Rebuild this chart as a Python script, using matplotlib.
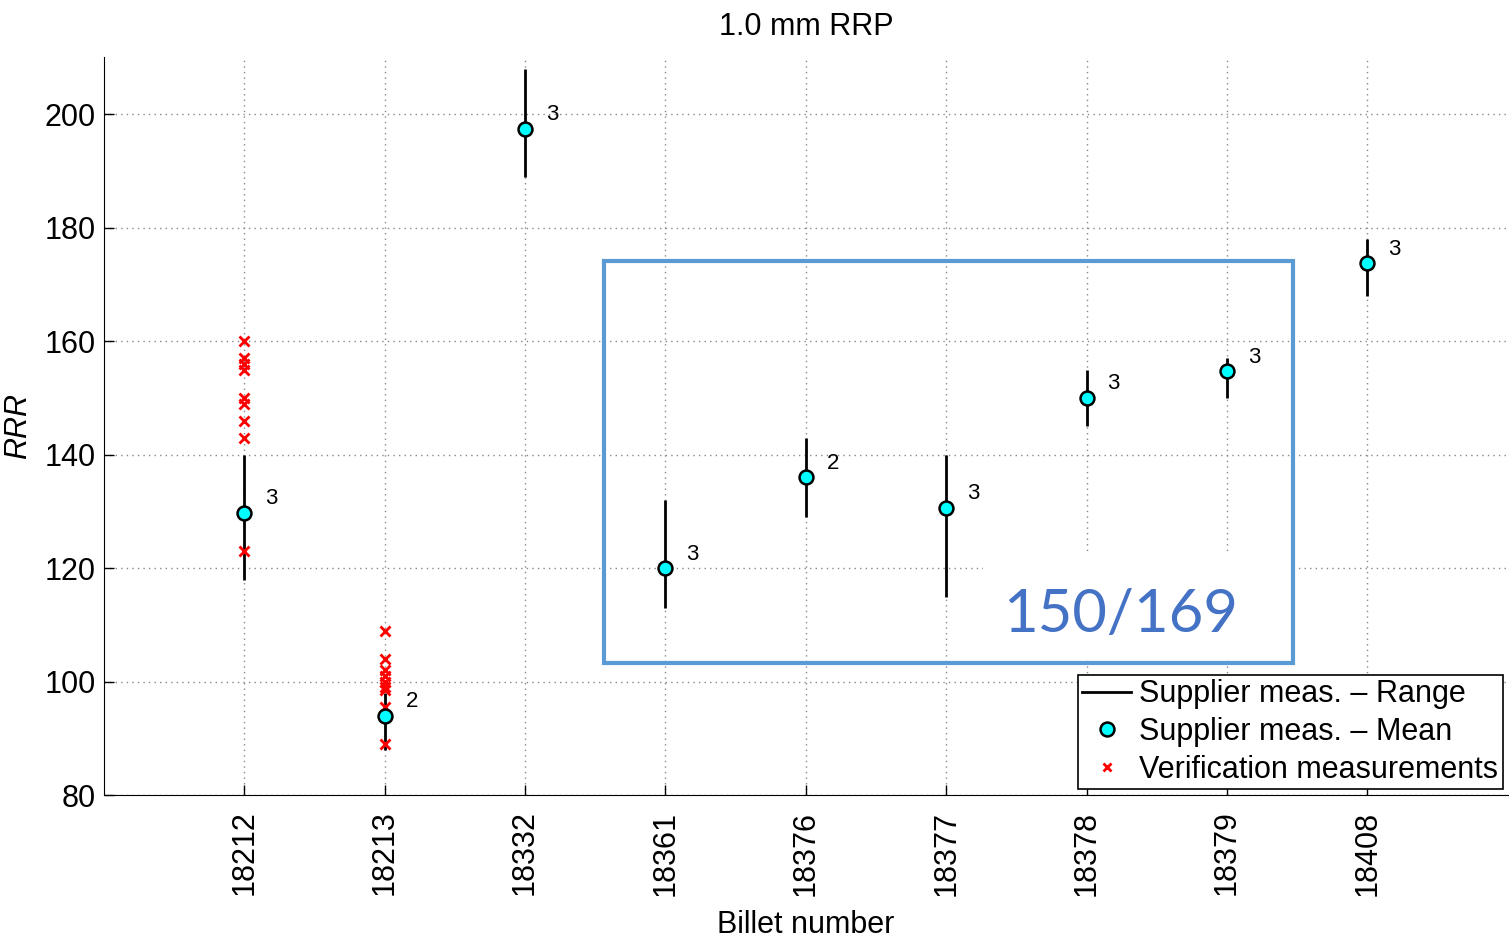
import numpy as np
import matplotlib.pyplot as plt
from matplotlib.lines import Line2D
from matplotlib.patches import Rectangle

plt.rcParams['font.family'] = ['Liberation Sans', 'DejaVu Sans']

# Supplier data per billet
billets = ['18212', '18213', '18332', '18361', '18376', '18377', '18378', '18379', '18408']
rrr_mean = [129.7, 94.0, 197.4, 120.0, 136.0, 130.6, 150.0, 154.7, 173.7]
rrr_min = [118, 88, 189, 113, 129, 115, 145, 150, 168]
rrr_max = [140, 98, 208, 132, 143, 140, 155, 157, 178]
n_meas = [3, 2, 3, 3, 2, 3, 3, 3, 3]

# Verification measurements (billet, RRR)
verif_billet = ['18212'] * 9 + ['18213'] * 9
verif_rrr = [160, 157, 156, 155, 150, 149, 146, 143, 123,
             109, 104, 102, 101, 100, 99, 98.5, 95.5, 89]

# Highlighted group and its label
box_x = (3.56, 8.47)
box_y = (103.3, 174.1)
box_text = '150/169'

x = np.arange(1, len(billets) + 1)
pos = {b: i + 1 for i, b in enumerate(billets)}
vx = [pos[b] for b in verif_billet]

fig = plt.figure(figsize=(15.09, 9.4), dpi=100)
ax = fig.add_axes([0.0689, 0.154, 0.9302, 0.785])

ax.vlines(x, rrr_min, rrr_max, color='black', lw=2.0, zorder=3)
ax.plot(vx, verif_rrr, 'x', color='red', ms=7, mew=2, zorder=4)
ax.plot(x, rrr_mean, 'o', mfc='cyan', mec='black', mew=1.8, ms=10, zorder=5)
for xi, m, n in zip(x, rrr_mean, n_meas):
    ax.text(xi + 0.15, m + 2.5, str(n), fontsize=16, va='center', ha='left')

ax.set_xlim(0, 10)
ax.set_ylim(80, 210)
ax.set_yticks(np.arange(80, 201, 20))
ax.set_xticks(x)
ax.set_xticklabels(billets, rotation=90)
ax.tick_params(direction='in', length=7, labelsize=22, width=1)
ax.tick_params(axis='x', pad=11)
ax.tick_params(axis='y', pad=6)
ax.grid(True, linestyle=(0, (1, 3)), color='#888888', lw=1)
ax.set_axisbelow(True)
for s in ['top', 'right']:
    ax.spines[s].set_visible(False)

ax.set_title('1.0 mm RRP', fontsize=22, pad=16)
ax.set_xlabel('Billet number', fontsize=22, labelpad=10)
ax.set_ylabel('RRR', fontsize=22, style='italic', labelpad=8)

# Blue highlight box with count label on a white background
ax.add_patch(Rectangle((box_x[0], box_y[0]), box_x[1] - box_x[0], box_y[1] - box_y[0],
                       fill=False, edgecolor='#5b9bd5', lw=3, zorder=6))
ax.add_patch(Rectangle((6.26, 104.0), 2.19, 18.8, facecolor='white',
                       edgecolor='none', zorder=2))
ax.text(7.24, 111.8, box_text, fontsize=43, color='#4472c4', ha='center',
        va='center', family=['Lato', 'DejaVu Sans'], zorder=7)

handles = [
    Line2D([], [], color='black', lw=2),
    Line2D([], [], ls='none', marker='o', mfc='cyan', mec='black', mew=1.8, ms=10),
    Line2D([], [], ls='none', marker='x', color='red', ms=6, mew=2),
]
labels = ['Supplier meas. \u2013 Range', 'Supplier meas. \u2013 Mean',
          'Verification measurements']
leg = ax.legend(handles, labels, loc='lower right', bbox_to_anchor=(0.9964, 0.008),
                borderaxespad=0, fontsize=22, fancybox=False, framealpha=1,
                edgecolor='black', handlelength=1.6, handletextpad=0.25,
                borderpad=0.15, labelspacing=0.25)
leg.get_frame().set_linewidth(1.2)
leg.set_zorder(8)

fig.savefig('out.png', dpi=100)
